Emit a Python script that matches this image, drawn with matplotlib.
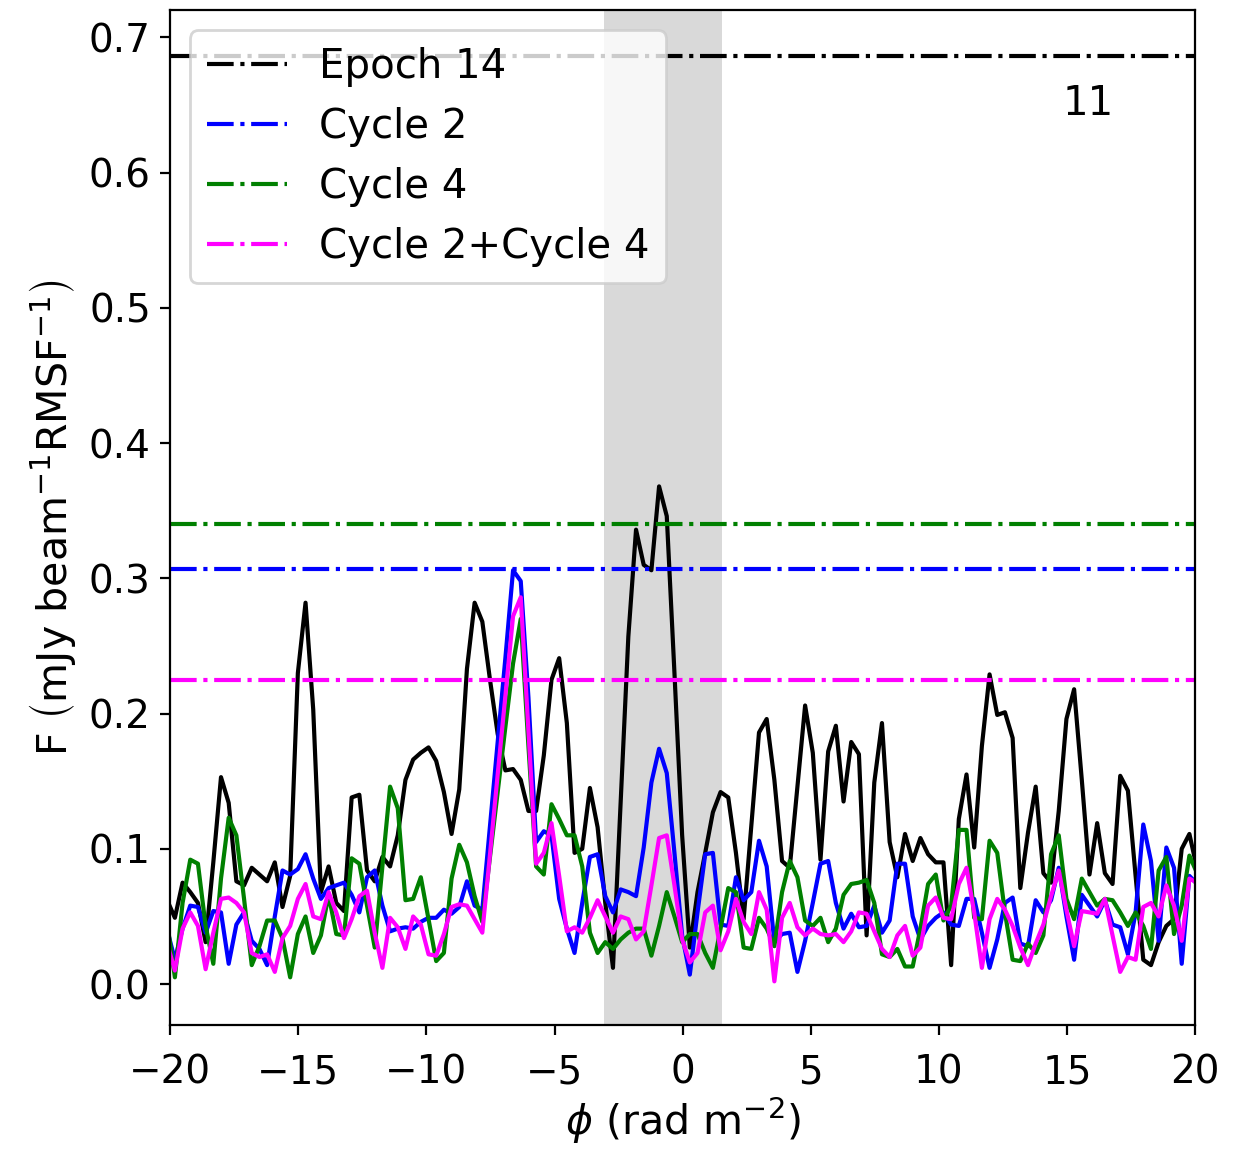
import matplotlib
matplotlib.use("Agg")
import matplotlib.pyplot as plt
import numpy as np

# Faraday depth grid (rad m^-2), step 0.3
phi = np.round(np.arange(135) * 0.3 - 20.12, 2)

epoch14 = [0.062,
    0.049, 0.075, 0.068, 0.060, 0.031, 0.090, 0.153, 0.134, 0.076, 0.073,
    0.086, 0.081, 0.076, 0.090, 0.057, 0.080, 0.230, 0.282, 0.203, 0.068,
    0.087, 0.060, 0.054, 0.138, 0.140, 0.084, 0.076, 0.094, 0.087, 0.110,
    0.151, 0.166, 0.171, 0.175, 0.165, 0.142, 0.111, 0.144, 0.233, 0.282,
    0.268, 0.225, 0.185, 0.158, 0.159, 0.151, 0.128, 0.128, 0.169, 0.225,
    0.241, 0.193, 0.097, 0.100, 0.145, 0.116, 0.060, 0.012, 0.134, 0.257,
    0.336, 0.310, 0.306, 0.368, 0.346, 0.230, 0.110, 0.027, 0.068, 0.097,
    0.127, 0.142, 0.138, 0.097, 0.048, 0.117, 0.186, 0.196, 0.151, 0.091,
    0.086, 0.146, 0.206, 0.171, 0.092, 0.172, 0.191, 0.135, 0.179, 0.170,
    0.036, 0.149, 0.193, 0.105, 0.079, 0.111, 0.091, 0.108, 0.096, 0.090,
    0.090, 0.014, 0.122, 0.155, 0.101, 0.176, 0.229, 0.199, 0.201, 0.182,
    0.071, 0.112, 0.146, 0.082, 0.075, 0.128, 0.196, 0.218, 0.151, 0.081,
    0.119, 0.082, 0.074, 0.154, 0.143, 0.080, 0.018, 0.014, 0.031, 0.043,
    0.048, 0.100, 0.111, 0.085]

cycle2 = [0.040,
    0.018, 0.041, 0.058, 0.057, 0.038, 0.054, 0.053, 0.015, 0.044, 0.053,
    0.032, 0.026, 0.014, 0.050, 0.084, 0.081, 0.085, 0.096, 0.078, 0.063,
    0.071, 0.073, 0.075, 0.066, 0.053, 0.079, 0.084, 0.058, 0.039, 0.041,
    0.042, 0.041, 0.046, 0.049, 0.049, 0.055, 0.052, 0.057, 0.076, 0.058,
    0.055, 0.117, 0.179, 0.241, 0.306, 0.298, 0.212, 0.105, 0.113, 0.110,
    0.063, 0.041, 0.023, 0.060, 0.094, 0.096, 0.065, 0.053, 0.070, 0.068,
    0.065, 0.101, 0.149, 0.174, 0.156, 0.097, 0.036, 0.007, 0.053, 0.096,
    0.097, 0.044, 0.043, 0.079, 0.062, 0.068, 0.106, 0.087, 0.031, 0.037,
    0.038, 0.009, 0.032, 0.060, 0.089, 0.091, 0.060, 0.041, 0.052, 0.042,
    0.043, 0.058, 0.038, 0.047, 0.089, 0.089, 0.050, 0.033, 0.043, 0.049,
    0.053, 0.044, 0.043, 0.063, 0.063, 0.038, 0.012, 0.033, 0.060, 0.064,
    0.030, 0.028, 0.062, 0.053, 0.062, 0.086, 0.050, 0.018, 0.066, 0.058,
    0.050, 0.062, 0.044, 0.042, 0.022, 0.053, 0.118, 0.091, 0.032, 0.101,
    0.086, 0.015, 0.080, 0.074]

cycle4 = [0.045,
    0.005, 0.060, 0.092, 0.089, 0.043, 0.015, 0.078, 0.123, 0.110, 0.063,
    0.014, 0.028, 0.047, 0.047, 0.034, 0.005, 0.037, 0.050, 0.023, 0.036,
    0.066, 0.037, 0.036, 0.093, 0.089, 0.058, 0.027, 0.087, 0.146, 0.130,
    0.062, 0.063, 0.079, 0.048, 0.017, 0.023, 0.078, 0.103, 0.090, 0.065,
    0.046, 0.094, 0.142, 0.190, 0.237, 0.270, 0.176, 0.087, 0.081, 0.133,
    0.122, 0.110, 0.110, 0.087, 0.038, 0.023, 0.031, 0.026, 0.033, 0.038,
    0.041, 0.041, 0.021, 0.043, 0.068, 0.050, 0.031, 0.037, 0.037, 0.023,
    0.012, 0.041, 0.071, 0.068, 0.027, 0.026, 0.049, 0.041, 0.028, 0.068,
    0.091, 0.079, 0.047, 0.043, 0.049, 0.031, 0.041, 0.066, 0.074, 0.075,
    0.077, 0.060, 0.022, 0.020, 0.026, 0.013, 0.013, 0.041, 0.074, 0.081,
    0.047, 0.058, 0.114, 0.114, 0.049, 0.048, 0.106, 0.097, 0.053, 0.018,
    0.017, 0.030, 0.023, 0.036, 0.096, 0.110, 0.063, 0.048, 0.078, 0.068,
    0.058, 0.063, 0.062, 0.053, 0.043, 0.053, 0.043, 0.026, 0.084, 0.094,
    0.037, 0.058, 0.095, 0.082]

cycle24 = [0.030,
    0.010, 0.041, 0.053, 0.043, 0.011, 0.038, 0.063, 0.064, 0.060, 0.053,
    0.023, 0.020, 0.022, 0.009, 0.034, 0.043, 0.063, 0.074, 0.050, 0.048,
    0.068, 0.053, 0.034, 0.048, 0.065, 0.069, 0.038, 0.012, 0.049, 0.042,
    0.026, 0.050, 0.044, 0.022, 0.021, 0.037, 0.057, 0.059, 0.058, 0.048,
    0.038, 0.096, 0.155, 0.213, 0.272, 0.286, 0.187, 0.089, 0.097, 0.119,
    0.080, 0.039, 0.042, 0.038, 0.049, 0.062, 0.050, 0.038, 0.050, 0.048,
    0.033, 0.039, 0.073, 0.108, 0.110, 0.073, 0.033, 0.016, 0.023, 0.053,
    0.058, 0.025, 0.039, 0.063, 0.046, 0.037, 0.068, 0.055, 0.002, 0.049,
    0.060, 0.042, 0.036, 0.041, 0.037, 0.036, 0.037, 0.031, 0.039, 0.053,
    0.052, 0.039, 0.026, 0.020, 0.036, 0.043, 0.021, 0.027, 0.058, 0.064,
    0.049, 0.048, 0.074, 0.086, 0.053, 0.012, 0.048, 0.063, 0.055, 0.043,
    0.027, 0.014, 0.030, 0.044, 0.065, 0.084, 0.055, 0.028, 0.054, 0.053,
    0.052, 0.063, 0.036, 0.009, 0.020, 0.018, 0.057, 0.060, 0.050, 0.073,
    0.058, 0.032, 0.078, 0.075]

# detection thresholds
labels = ['Epoch 14', 'Cycle 2', 'Cycle 4', 'Cycle 2+Cycle 4']
colors = ['black', 'blue', 'green', 'magenta']
thresholds = [0.686, 0.307, 0.340, 0.225]
shade = (-3.06, 1.54)

fig = plt.figure(figsize=(6.26, 5.75), dpi=200)
ax = fig.add_axes([0.136, 0.109, 0.8185, 0.882])

ax.axvspan(shade[0], shade[1], color='0.85', lw=0, zorder=0)

for y, c in zip([epoch14, cycle2, cycle4, cycle24], colors):
    ax.plot(phi, y, color=c, lw=1.5)

for t, c, lab in zip(thresholds, colors, labels):
    ax.axhline(t, color=c, ls='-.', lw=1.5, label=lab)

ax.text(0.896, 0.908, '11', transform=ax.transAxes, fontsize=14.5,
        ha='center', va='center')

ax.set_xlim(-20, 20)
ax.set_ylim(-0.03, 0.72)
ax.tick_params(labelsize=14)
ax.tick_params(axis='x', pad=7)
ax.set_xlabel(r'$\phi$ (rad m$^{-2}$)', fontsize=14.8, labelpad=1.5)
ax.set_ylabel(r'F $\left(\mathrm{mJy\ beam^{-1}RMSF^{-1}}\right)$', fontsize=14.8)
ax.legend(loc='upper left', fontsize=14.5)

fig.savefig('out.png', dpi=200)
